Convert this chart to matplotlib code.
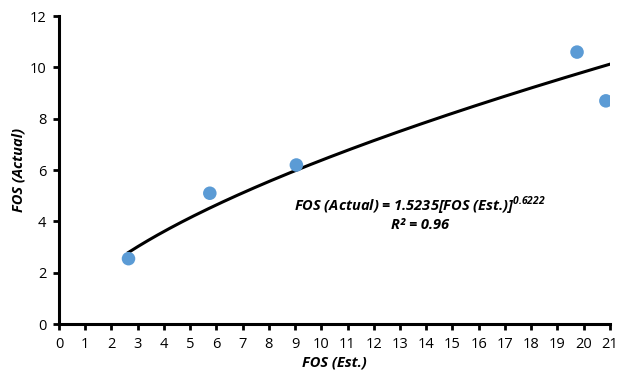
import matplotlib.pyplot as plt
import numpy as np

# data
fos_est = [2.65, 5.75, 9.05, 19.75, 20.85]
fos_actual = [2.55, 5.1, 6.2, 10.6, 8.7]

# power fit coefficients as given on the chart
coef_a = 1.5235
coef_b = 0.6222
x_ticks = list(range(0, 22))
y_ticks = list(range(0, 13, 2))

plt.rcParams['font.family'] = ['Open Sans', 'DejaVu Sans']
plt.rcParams['mathtext.fontset'] = 'custom'
plt.rcParams['mathtext.bf'] = 'Open Sans:italic:bold'

fig = plt.figure(figsize=(6.21, 3.76), dpi=100)
ax = fig.add_axes([0.095, 0.138, 0.887, 0.819])

xfit = np.linspace(min(fos_est), 21, 200)
ax.plot(xfit, coef_a * xfit ** coef_b, color='black', lw=2.2, zorder=2)
ax.scatter(fos_est, fos_actual, s=95, color='#5B9BD5', zorder=3, edgecolor='none')

ax.set_xlim(0, 21)
ax.set_ylim(0, 12)
ax.set_xticks(x_ticks)
ax.set_yticks(y_ticks)
ax.tick_params(direction='out', length=4, width=2, labelsize=10.5, pad=5)
for s in ['top', 'right']:
    ax.spines[s].set_visible(False)
for s in ['left', 'bottom']:
    ax.spines[s].set_linewidth(2.2)

ax.set_xlabel('FOS (Est.)', fontsize=10.5, fontweight='bold', style='italic', labelpad=3)
ax.set_ylabel('FOS (Actual)', fontsize=10.5, fontweight='bold', style='italic', labelpad=3)

ax.text(13.75, 4.62, r'FOS (Actual) = 1.5235[FOS (Est.)]$^{\mathbf{0.6222}}$',
        fontsize=10.5, fontweight='bold', style='italic', ha='center', va='center')
ax.text(13.75, 3.85, 'R² = 0.96', fontsize=10.5, fontweight='bold', style='italic',
        ha='center', va='center')

fig.savefig('out.png', dpi=100)
